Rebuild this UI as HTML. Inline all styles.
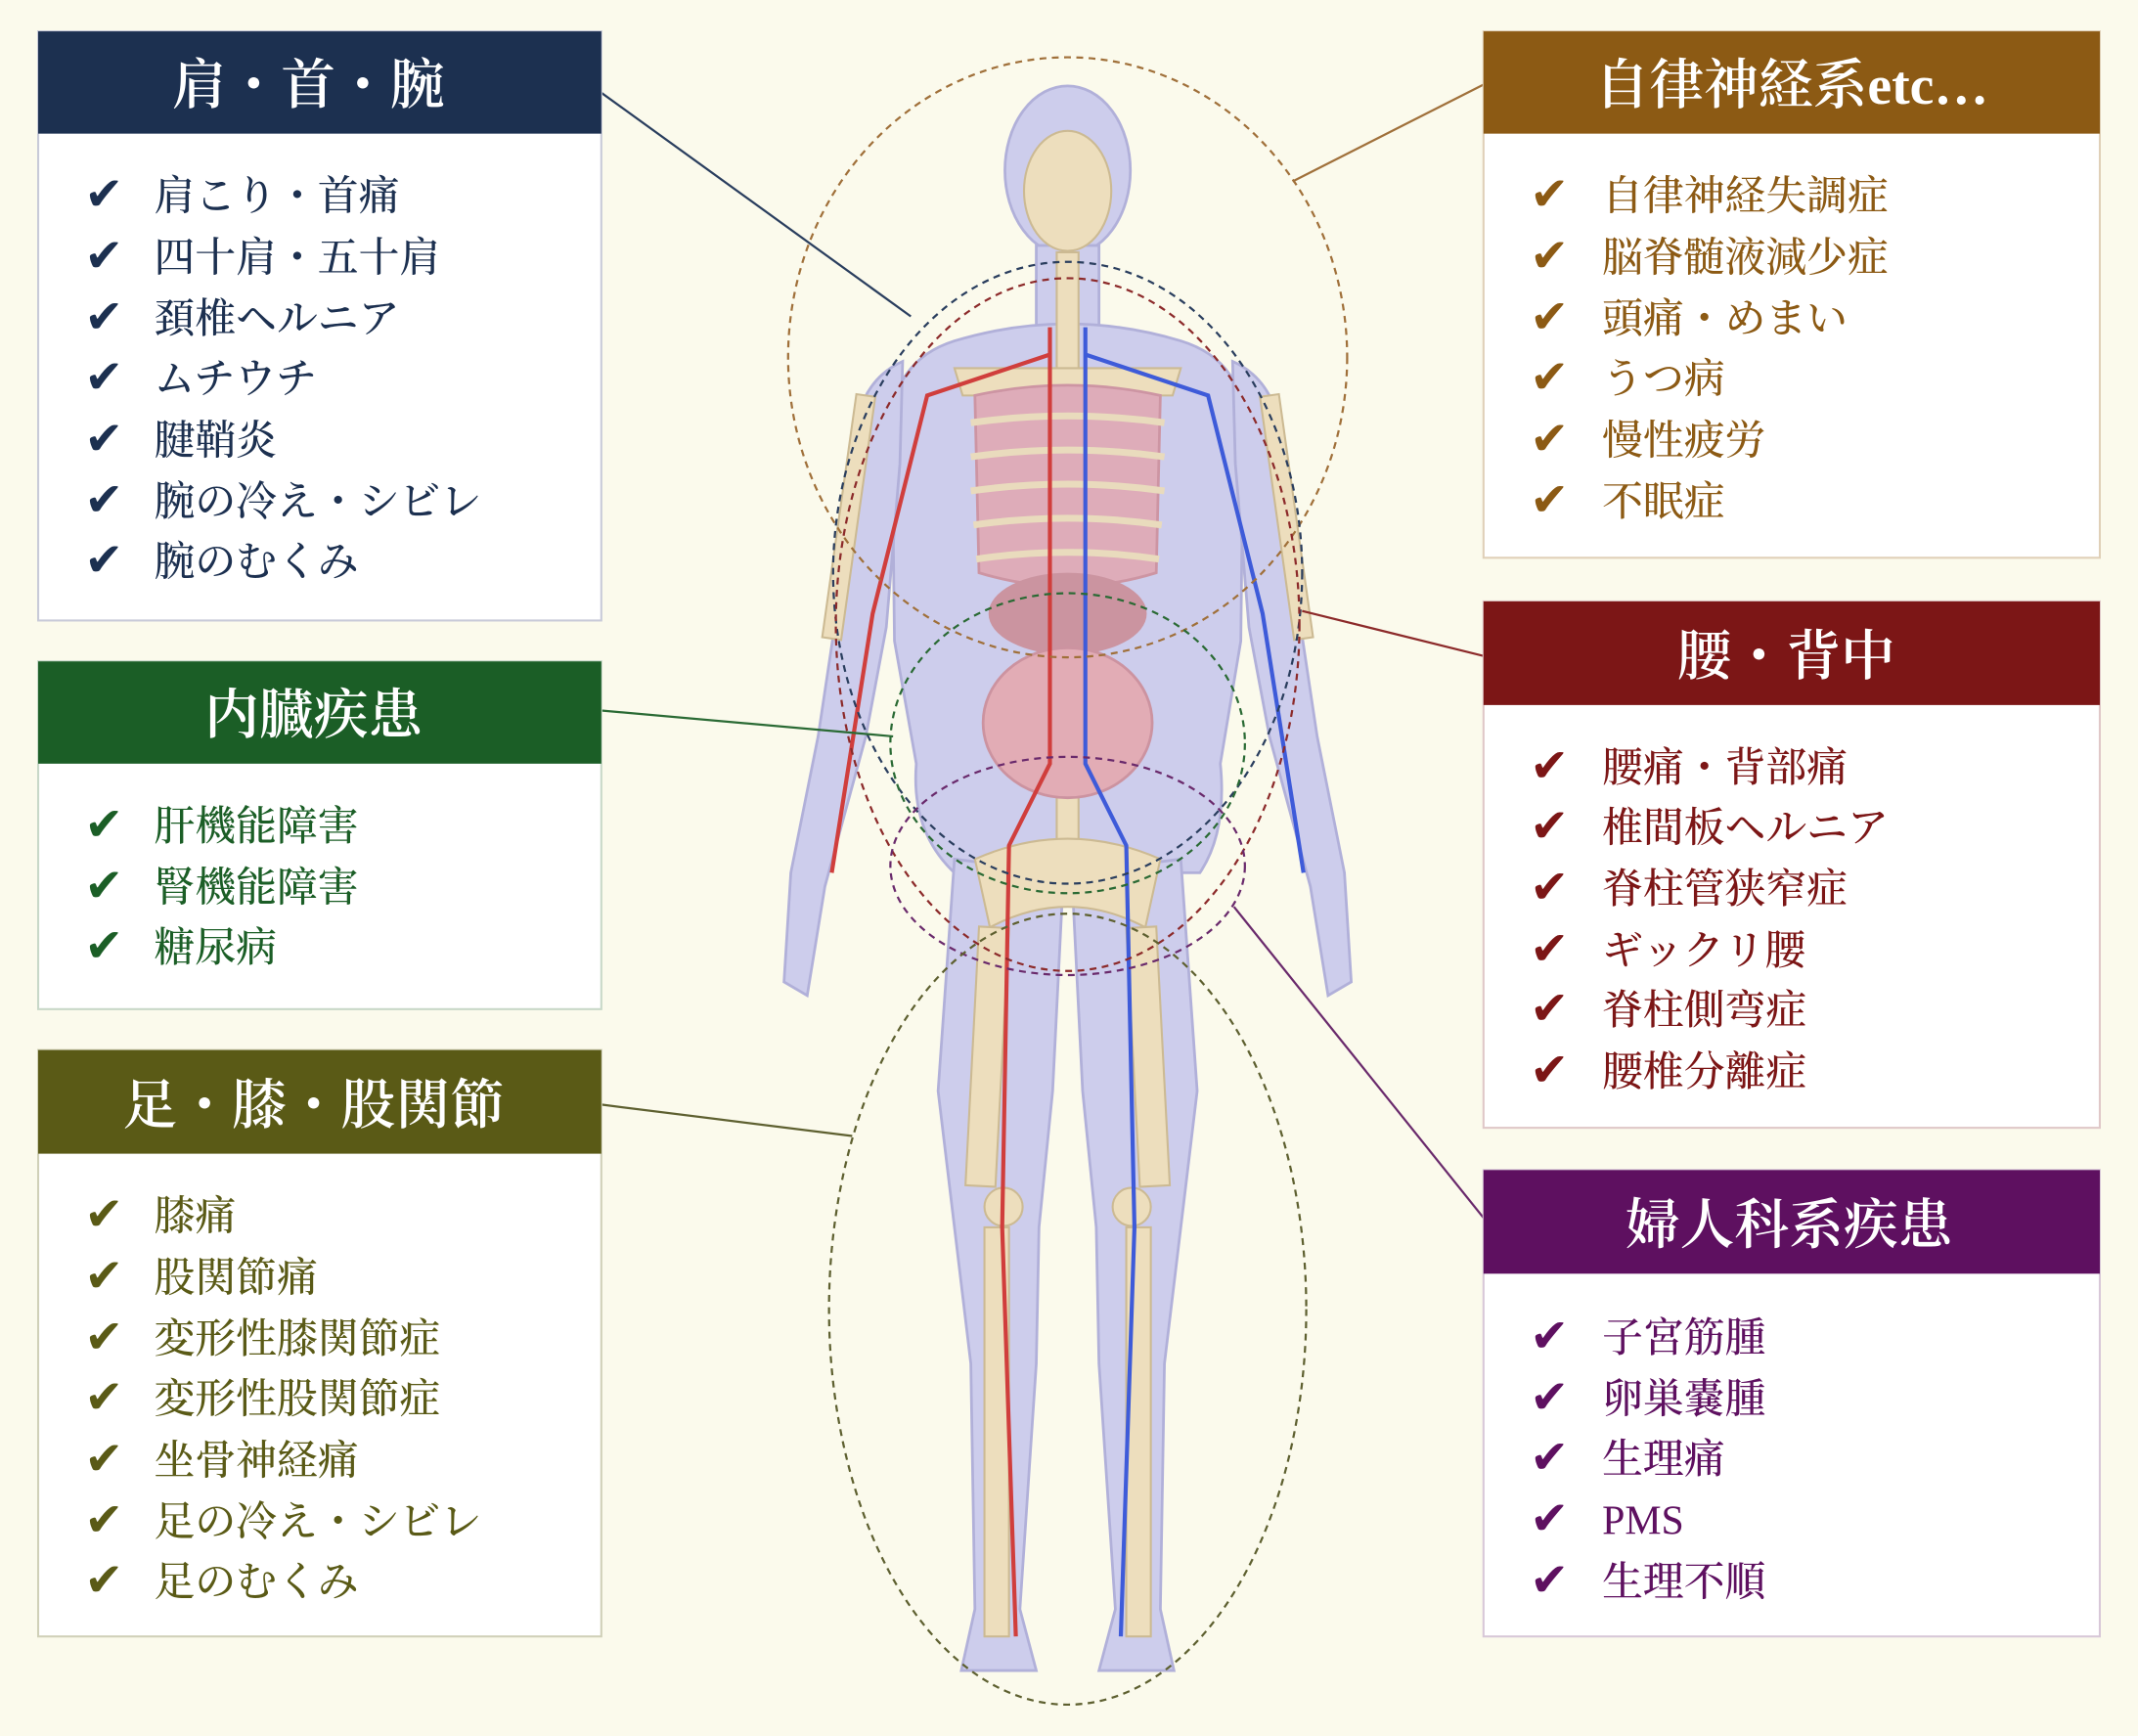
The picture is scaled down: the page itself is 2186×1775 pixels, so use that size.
<!DOCTYPE html>
<html><head><meta charset="utf-8"><style>
html,body{margin:0;padding:0;background:#fbfaec;}
svg{display:block;}
text{font-family:"Liberation Serif","Noto Serif CJK SC","Noto Sans CJK JP",serif;}
.h{font-weight:600;}
.l{font-weight:500;}
</style></head><body>
<svg width="2186" height="1775" viewBox="0 0 1568 1273" preserveAspectRatio="none" xmlns="http://www.w3.org/2000/svg">
<rect width="1568" height="1273" fill="#fbfaec"/>
<g opacity="0.9">
<g fill="#c9c9ec" stroke="#a9a9d8" stroke-width="2">
<ellipse cx="783" cy="125" rx="46" ry="62"/>
<rect x="760" y="180" width="46" height="60"/>
<path d="M700 250 Q783 225 866 250 Q905 262 912 300 L910 470 L895 560 Q900 610 880 640 L700 640 Q668 610 672 560 L656 470 L654 300 Q662 262 700 250Z"/>
<path d="M662 265 Q628 280 625 330 L612 460 L600 540 L580 640 L575 720 L592 730 L605 650 L635 540 L650 460 L660 340Z"/>
<path d="M904 265 Q938 280 941 330 L954 460 L966 540 L986 640 L991 720 L974 730 L961 650 L931 540 L916 460 L906 340Z"/>
<path d="M700 630 L780 640 L772 800 L762 900 L760 1000 L748 1180 L760 1225 L705 1225 L715 1180 L712 1000 L700 900 L688 800Z"/>
<path d="M866 630 L786 640 L794 800 L804 900 L806 1000 L818 1180 L806 1225 L861 1225 L851 1180 L854 1000 L866 900 L878 800Z"/>
</g>
<g fill="#ecdcb8" stroke="#c8b48a" stroke-width="1.5">
<ellipse cx="783" cy="140" rx="32" ry="44"/>
<rect x="775" y="185" width="16" height="440"/>
<path d="M700 270 L866 270 L860 290 L706 290Z"/>
<path d="M715 630 Q783 600 851 630 L840 680 Q783 650 726 680Z"/>
<rect x="718" y="680" width="22" height="190" transform="rotate(3 729 680)"/>
<rect x="826" y="680" width="22" height="190" transform="rotate(-3 837 680)"/>
<rect x="722" y="900" width="18" height="300"/>
<rect x="826" y="900" width="18" height="300"/>
<circle cx="736" cy="885" r="14"/><circle cx="830" cy="885" r="14"/>
<rect x="628" y="290" width="14" height="180" transform="rotate(8 635 290)"/>
<rect x="924" y="290" width="14" height="180" transform="rotate(-8 931 290)"/>
</g>
<path d="M715 290 Q783 275 851 290 L848 420 Q783 440 718 420Z" fill="#dba4b4" stroke="#c98b9c" stroke-width="2"/>
<g stroke="#e8d8b8" stroke-width="5" fill="none">
<path d="M712 310 Q783 300 854 310"/><path d="M712 335 Q783 325 854 335"/><path d="M712 360 Q783 350 854 360"/><path d="M714 385 Q783 375 852 385"/><path d="M716 410 Q783 400 850 410"/>
</g>
<ellipse cx="783" cy="450" rx="58" ry="30" fill="#c68a98"/>
<ellipse cx="783" cy="530" rx="62" ry="55" fill="#e0a4b0" stroke="#c88898" stroke-width="2"/>
<g stroke="#cc2a2a" stroke-width="3" fill="none"><path d="M770 240 L770 560 L740 620 L735 900 L745 1200"/><path d="M770 260 L680 290 L640 450 L610 640"/></g>
<g stroke="#2a4ad8" stroke-width="3" fill="none"><path d="M796 240 L796 560 L826 620 L832 900 L822 1200"/><path d="M796 260 L886 290 L926 450 L956 640"/></g>
</g>
<g fill="none" stroke-width="1.6" stroke-dasharray="5,4">
<ellipse cx="783" cy="262" rx="205" ry="220" stroke="#a0703a"/>
<ellipse cx="783" cy="420" rx="172" ry="228" stroke="#2a3e5e"/>
<ellipse cx="783" cy="458" rx="170" ry="254" stroke="#8c2a2a"/>
<ellipse cx="783" cy="545" rx="130" ry="110" stroke="#2a6a34"/>
<ellipse cx="783" cy="635" rx="130" ry="80" stroke="#6a2a6c"/>
<ellipse cx="783" cy="960" rx="175" ry="290" stroke="#5e6030"/>
</g>
<g stroke-width="1.6">
<line x1="441" y1="68" x2="668" y2="232" stroke="#2a3e5e"/>
<line x1="1088" y1="62" x2="948" y2="133" stroke="#a0703a"/>
<line x1="441" y1="521" x2="655" y2="540" stroke="#2a6a34"/>
<line x1="1088" y1="481" x2="955" y2="448" stroke="#8c2a2a"/>
<line x1="441" y1="810" x2="625" y2="833" stroke="#5e6030"/>
<line x1="1088" y1="893" x2="905" y2="665" stroke="#6a2a6c"/>
</g>
<g stroke-width="1.5">
<rect x="28" y="23" width="413" height="432" fill="#fff" stroke="#c8cad8"/>
<rect x="28" y="23" width="413" height="75" fill="#1c3050"/>
<rect x="28" y="485" width="413" height="255" fill="#fff" stroke="#c8d8c8"/>
<rect x="28" y="485" width="413" height="75" fill="#1b5e26"/>
<rect x="28" y="770" width="413" height="430" fill="#fff" stroke="#d0d0b8"/>
<rect x="28" y="770" width="413" height="76" fill="#5a5a16"/>
<rect x="1088" y="23" width="452" height="386" fill="#fff" stroke="#e0d0b8"/>
<rect x="1088" y="23" width="452" height="75" fill="#8c5a14"/>
<rect x="1088" y="441" width="452" height="386" fill="#fff" stroke="#e0c8c8"/>
<rect x="1088" y="441" width="452" height="76" fill="#7c1616"/>
<rect x="1088" y="858" width="452" height="342" fill="#fff" stroke="#d8c8d8"/>
<rect x="1088" y="858" width="452" height="76" fill="#5e1060"/>
</g>
<g fill="#fff" font-size="40" text-anchor="middle" class="h">
<text x="226" y="76">肩・首・腕</text>
<text x="230" y="538">内臓疾患</text>
<text x="230" y="824">足・膝・股関節</text>
<text x="1314" y="76">自律神経系etc…</text>
<text x="1310" y="495">腰・背中</text>
<text x="1312" y="912">婦人科系疾患</text>
</g>
<g font-size="30" class="l">
<g fill="#1c3050">
<g font-size="34"><text x="62" y="154">✔</text><text x="62" y="199">✔</text><text x="62" y="244">✔</text><text x="62" y="288">✔</text><text x="62" y="333">✔</text><text x="62" y="378">✔</text><text x="62" y="422">✔</text></g>
<text x="113" y="154">肩こり・首痛</text><text x="113" y="199">四十肩・五十肩</text><text x="113" y="244">頚椎ヘルニア</text><text x="113" y="288">ムチウチ</text><text x="113" y="333">腱鞘炎</text><text x="113" y="378">腕の冷え・シビレ</text><text x="113" y="422">腕のむくみ</text>
</g>
<g fill="#1b5e26">
<g font-size="34"><text x="62" y="616">✔</text><text x="62" y="661">✔</text><text x="62" y="705">✔</text></g>
<text x="113" y="616">肝機能障害</text><text x="113" y="661">腎機能障害</text><text x="113" y="705">糖尿病</text>
</g>
<g fill="#5a5a16">
<g font-size="34"><text x="62" y="902">✔</text><text x="62" y="947">✔</text><text x="62" y="992">✔</text><text x="62" y="1036">✔</text><text x="62" y="1081">✔</text><text x="62" y="1126">✔</text><text x="62" y="1170">✔</text></g>
<text x="113" y="902">膝痛</text><text x="113" y="947">股関節痛</text><text x="113" y="992">変形性膝関節症</text><text x="113" y="1036">変形性股関節症</text><text x="113" y="1081">坐骨神経痛</text><text x="113" y="1126">足の冷え・シビレ</text><text x="113" y="1170">足のむくみ</text>
</g>
<g fill="#8c5a14">
<g font-size="34"><text x="1122" y="154">✔</text><text x="1122" y="199">✔</text><text x="1122" y="244">✔</text><text x="1122" y="288">✔</text><text x="1122" y="333">✔</text><text x="1122" y="378">✔</text></g>
<text x="1175" y="154">自律神経失調症</text><text x="1175" y="199">脳脊髄液減少症</text><text x="1175" y="244">頭痛・めまい</text><text x="1175" y="288">うつ病</text><text x="1175" y="333">慢性疲労</text><text x="1175" y="378">不眠症</text>
</g>
<g fill="#7c1616">
<g font-size="34"><text x="1122" y="573">✔</text><text x="1122" y="617">✔</text><text x="1122" y="662">✔</text><text x="1122" y="707">✔</text><text x="1122" y="751">✔</text><text x="1122" y="796">✔</text></g>
<text x="1175" y="573">腰痛・背部痛</text><text x="1175" y="617">椎間板ヘルニア</text><text x="1175" y="662">脊柱管狭窄症</text><text x="1175" y="707">ギックリ腰</text><text x="1175" y="751">脊柱側弯症</text><text x="1175" y="796">腰椎分離症</text>
</g>
<g fill="#5e1060">
<g font-size="34"><text x="1122" y="991">✔</text><text x="1122" y="1036">✔</text><text x="1122" y="1080">✔</text><text x="1122" y="1125">✔</text><text x="1122" y="1170">✔</text></g>
<text x="1175" y="991">子宮筋腫</text><text x="1175" y="1036">卵巣嚢腫</text><text x="1175" y="1080">生理痛</text><text x="1175" y="1125">PMS</text><text x="1175" y="1170">生理不順</text>
</g>
</g>
</svg>
</body></html>
